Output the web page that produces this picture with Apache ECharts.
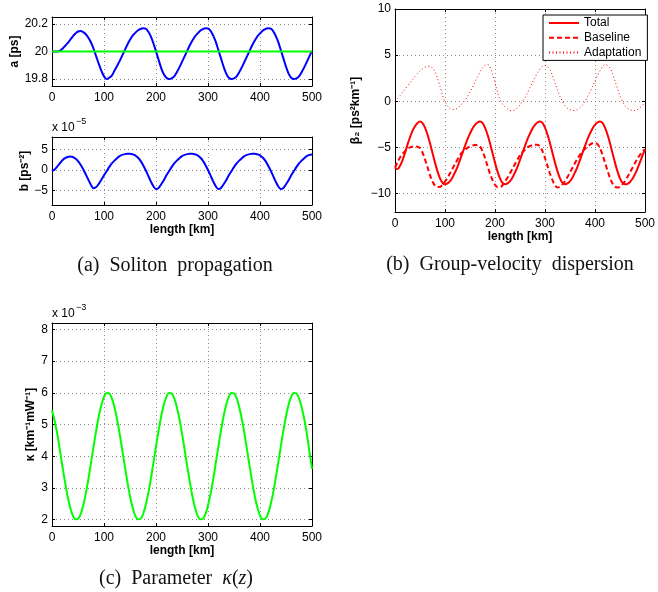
<!DOCTYPE html>
<html>
<head>
<meta charset="utf-8">
<title></title>
<script src="https://cdn.jsdelivr.net/npm/echarts@6/dist/echarts.min.js"></script>
<style>
  html, body { margin: 0; padding: 0; background: #fff; }
  #chart { width: 658px; height: 592px; }
</style>
</head>
<body>
<div id="chart"></div>
<script>
// fibre length, km (samples every 5 km)
const lengthKm = [0,5,10,15,20,25,30,35,40,45,50,55,60,65,70,75,80,85,90,95,
  100,105,110,115,120,125,130,135,140,145,150,155,160,165,170,175,180,185,190,195,
  200,205,210,215,220,225,230,235,240,245,250,255,260,265,270,275,280,285,290,295,
  300,305,310,315,320,325,330,335,340,345,350,355,360,365,370,375,380,385,390,395,
  400,405,410,415,420,425,430,435,440,445,450,455,460,465,470,475,480,485,490,495,500];

// (a) pulse width a [ps]
const widthA = [20.00,20.00,20.00,20.005,20.02,20.04,20.06,20.085,20.11,20.13,
  20.145,20.148,20.14,20.125,20.10,20.065,20.02,19.965,19.91,19.86,
  19.82,19.80,19.81,19.825,19.86,19.895,19.93,19.97,20.01,20.05,
  20.085,20.115,20.135,20.152,20.163,20.168,20.166,20.145,20.11,20.06,
  20.00,19.94,19.88,19.835,19.81,19.80,19.805,19.82,19.85,19.885,
  19.925,19.965,20.005,20.045,20.08,20.11,20.13,20.15,20.162,20.168,
  20.167,20.15,20.115,20.07,20.01,19.95,19.89,19.84,19.81,19.80,
  19.805,19.82,19.85,19.885,19.925,19.965,20.005,20.045,20.08,20.11,
  20.13,20.15,20.162,20.168,20.167,20.15,20.115,20.07,20.01,19.95,
  19.89,19.84,19.81,19.80,19.805,19.82,19.85,19.885,19.925,19.965,
  20.005];
const refKm = [0, 500];
const refA = [20, 20];

// (a) chirp b [x1e-5 ps^-2]
const chirpB = [-0.3,0.1,0.8,1.6,2.4,2.9,3.2,3.3,3.2,2.8,2.2,1.3,0.2,-1.1,-2.4,-3.7,-4.5,
  -4.2,-3.4,-2.4,-1.3,-0.3,0.7,1.6,2.3,2.9,3.4,3.7,3.9,4.0,4.0,3.85,3.6,3.05,2.3,1.25,0.0,-1.4,-2.8,-4.0,-4.7,
  -4.4,-3.5,-2.5,-1.3,-0.3,0.7,1.6,2.3,2.9,3.4,3.7,3.9,4.0,4.0,3.85,3.6,3.05,2.3,1.25,0.0,-1.4,-2.8,-4.0,-4.7,
  -4.4,-3.5,-2.5,-1.3,-0.3,0.7,1.6,2.3,2.9,3.4,3.7,3.9,4.0,4.0,3.85,3.6,3.05,2.3,1.25,0.0,-1.4,-2.8,-4.0,-4.7,
  -4.4,-3.5,-2.5,-1.3,-0.3,0.7,1.6,2.3,2.9,3.4,3.7,3.8];

// (b) beta2 [ps^2 km^-1]
const betaTotal = [-7.2,-7.35,-7.0,-6.4,-5.6,-4.7,-3.9,-3.2,-2.7,-2.35,-2.2,
  -2.37,-2.85,-3.6,-4.55,-5.6,-6.65,-7.6,-8.35,-8.83,-9.0,
  -8.9,-8.65,-8.25,-7.7,-7.1,-6.35,-5.6,-4.85,-4.1,-3.5,-2.95,-2.55,-2.3,-2.2,
  -2.35,-2.85,-3.6,-4.55,-5.6,-6.65,-7.6,-8.35,-8.85,-9.0,
  -8.9,-8.65,-8.25,-7.7,-7.1,-6.35,-5.6,-4.85,-4.1,-3.5,-2.95,-2.55,-2.3,-2.2,
  -2.35,-2.85,-3.6,-4.55,-5.6,-6.65,-7.6,-8.35,-8.85,-9.0,
  -8.9,-8.65,-8.25,-7.7,-7.1,-6.35,-5.6,-4.85,-4.1,-3.5,-2.95,-2.55,-2.3,-2.2,
  -2.35,-2.85,-3.6,-4.55,-5.6,-6.65,-7.6,-8.35,-8.85,-9.0,
  -8.95,-8.75,-8.4,-7.9,-7.3,-6.6,-5.9,-5.2];
const betaBase = [-7.2,-6.6,-6.1,-5.7,-5.4,-5.15,-5.0,-4.92,-4.9,-4.92,
  -5.05,-5.55,-6.3,-7.15,-8.0,-8.7,-9.15,-9.3,
  -9.27,-9.05,-8.7,-8.3,-7.8,-7.3,-6.8,-6.3,-5.85,-5.5,-5.25,-5.05,-4.9,-4.8,-4.75,-4.75,
  -4.9,-5.4,-6.15,-7.0,-7.85,-8.55,-9.05,-9.3,
  -9.3,-9.1,-8.7,-8.3,-7.8,-7.3,-6.8,-6.3,-5.85,-5.5,-5.25,-5.0,-4.85,-4.75,-4.7,-4.7,
  -4.9,-5.4,-6.15,-7.0,-7.85,-8.55,-9.1,-9.35,
  -9.25,-9.0,-8.65,-8.2,-7.7,-7.2,-6.7,-6.2,-5.8,-5.45,-5.15,-4.9,-4.7,-4.55,-4.5,
  -4.65,-5.1,-5.8,-6.65,-7.5,-8.3,-8.9,-9.25,-9.35,
  -9.25,-9.0,-8.65,-8.2,-7.7,-7.2,-6.7,-6.2,-5.8,-5.45,-5.2];
const betaAdapt = [0.0,0.3,0.6,0.95,1.3,1.65,2.0,2.35,2.7,3.0,
  3.3,3.5,3.7,3.8,3.8,3.6,3.2,2.5,1.6,0.7,
  -0.05,-0.5,-0.8,-0.9,-0.9,-0.75,-0.5,-0.2,0.1,0.5,
  1.0,1.5,2.1,2.65,3.2,3.6,3.9,4.0,3.7,3.0,
  2.0,1.0,0.2,-0.3,-0.6,-0.85,-1.0,-1.0,-0.9,-0.7,
  -0.4,0.0,0.4,0.9,1.5,2.05,2.6,3.1,3.5,3.8,
  3.9,3.75,3.4,2.8,2.0,1.2,0.5,0.0,-0.5,-0.75,
  -0.9,-1.0,-1.0,-0.9,-0.7,-0.4,0.0,0.5,1.0,1.6,
  2.2,2.8,3.3,3.75,4.0,3.9,3.6,3.0,2.2,1.4,
  0.6,0.0,-0.5,-0.75,-0.9,-1.0,-1.0,-0.9,-0.7,-0.45,
  -0.2];

// (c) kappa [x1e-3 km^-1 mW^-1]
const kappa = [5.45,5.12,4.72,4.21,3.69,3.19,2.74,2.38,2.13,2.01,2.02,2.17,2.45,2.82,3.28,3.79,4.31,4.81,5.26,5.62,5.87,5.99,5.98,5.83,
  5.55,5.18,4.72,4.21,3.69,3.19,2.74,2.38,2.13,2.01,2.02,2.17,2.45,2.82,3.28,3.79,4.31,4.81,5.26,5.62,5.87,5.99,5.98,5.83,
  5.55,5.18,4.72,4.21,3.69,3.19,2.74,2.38,2.13,2.01,2.02,2.17,2.45,2.82,3.28,3.79,4.31,4.81,5.26,5.62,5.87,5.99,5.98,5.83,
  5.55,5.18,4.72,4.21,3.69,3.19,2.74,2.38,2.13,2.01,2.02,2.17,2.45,2.82,3.28,3.79,4.31,4.81,5.26,5.62,5.87,5.99,5.98,5.83,
  5.55,5.18,4.72,4.15,3.6];

const xTicks = [0, 100, 200, 300, 400, 500];
const aTicks = [19.8, 20, 20.2];
const bTicks = [-5, 0, 5];
const betaTicks = [-10, -5, 0, 5, 10];
const kappaTicks = [2, 3, 4, 5, 6, 7, 8];

const font = "'Liberation Sans', Arial, sans-serif";
const serif = "'Liberation Serif', 'Times New Roman', serif";
const gridDot = { color: '#8a8a8a', width: 1, type: [1, 3] };
const minus = v => String(v).replace('-', '\u2212');

function pairs(xs, ys) { return xs.map((x, i) => [x, ys[i]]); }

const grids = [
  { left: 52, top: 17, width: 260, height: 69 },
  { left: 52, top: 137, width: 260, height: 68 },
  { left: 395, top: 9, width: 254, height: 203 },
  { left: 52, top: 323, width: 260, height: 203 }
];

const yCfg = [
  { min: 19.75, max: 20.25, ticks: aTicks, name: 'a [ps]', gap: 31 },
  { min: -8.6, max: 8.1, ticks: bTicks, name: 'b [ps\u207B\u00B2]', gap: 20 },
  { min: -12, max: 10, ticks: betaTicks, name: '\u03B2\u2082 [ps\u00B2km\u207B\u00B9]', gap: 33 },
  { min: 1.8, max: 8.2, ticks: kappaTicks, name: '\u03BA [km\u207B\u00B9mW\u207B\u00B9]', gap: 15 }
];
const xNames = ['', 'length [km]', 'length [km]', 'length [km]'];

const xAxis = [], yAxis = [];
grids.forEach((g, i) => {
  xAxis.push({
    type: 'value', gridIndex: i, min: 0, max: 500, position: 'bottom',
    name: xNames[i], nameLocation: 'middle', nameGap: 19,
    nameTextStyle: { fontFamily: font, fontSize: 12, fontWeight: 'bold', color: '#000' },
    axisLine: { show: true, onZero: false, lineStyle: { color: '#000', width: 1 } },
    axisTick: { show: true, inside: true, length: 3, customValues: xTicks, lineStyle: { color: '#000' } },
    axisLabel: { show: true, margin: 6, customValues: xTicks, fontFamily: font, fontSize: 12, color: '#000' },
    splitLine: { show: true, lineStyle: gridDot }
  });
  yAxis.push({
    type: 'value', gridIndex: i, min: yCfg[i].min, max: yCfg[i].max, position: 'left',
    name: yCfg[i].name, nameLocation: 'middle', nameRotate: 90, nameGap: yCfg[i].gap,
    nameTextStyle: { fontFamily: font, fontSize: 12, fontWeight: 'bold', color: '#000' },
    axisLine: { show: true, onZero: false, lineStyle: { color: '#000', width: 1 } },
    axisTick: { show: true, inside: true, length: 3, customValues: yCfg[i].ticks, lineStyle: { color: '#000' } },
    axisLabel: { show: true, margin: 4, customValues: yCfg[i].ticks, formatter: minus,
      fontFamily: font, fontSize: 12, color: '#000' },
    splitLine: { show: true, lineStyle: gridDot }
  });
});
// box edges on top / right with inward ticks
grids.forEach((g, i) => {
  xAxis.push({
    type: 'value', gridIndex: i, min: 0, max: 500, position: 'top',
    axisLine: { show: true, onZero: false, lineStyle: { color: '#000', width: 1 } },
    axisTick: { show: true, inside: true, length: 3, customValues: xTicks, lineStyle: { color: '#000' } },
    axisLabel: { show: false }, splitLine: { show: false }
  });
  yAxis.push({
    type: 'value', gridIndex: i, min: yCfg[i].min, max: yCfg[i].max, position: 'right',
    axisLine: { show: true, onZero: false, lineStyle: { color: '#000', width: 1 } },
    axisTick: { show: true, inside: true, length: 3, customValues: yCfg[i].ticks, lineStyle: { color: '#000' } },
    axisLabel: { show: false }, splitLine: { show: false }
  });
});

function line(name, gi, data, color, width, type) {
  return {
    name: name, type: 'line', xAxisIndex: gi, yAxisIndex: gi, data: data,
    smooth: 0.3, symbol: 'none', showSymbol: false,
    lineStyle: { color: color, width: width, type: type || 'solid' },
    itemStyle: { color: color }
  };
}

const chart = echarts.init(document.getElementById('chart'), null, { renderer: 'canvas' });
chart.setOption({
  animation: false,
  backgroundColor: '#fff',
  grid: grids.map(g => Object.assign({ containLabel: false }, g)),
  xAxis: xAxis,
  yAxis: yAxis,
  legend: {
    data: ['Total', 'Baseline', 'Adaptation'],
    orient: 'vertical', left: 543, top: 15,
    itemWidth: 30, itemHeight: 12, itemGap: 2.7,
    padding: [2, 6, 2, 5],
    itemStyle: { color: 'rgba(0,0,0,0)', borderColor: 'rgba(0,0,0,0)', borderWidth: 0 },
    backgroundColor: '#fff', borderColor: '#000', borderWidth: 1, borderRadius: 0,
    textStyle: { fontFamily: font, fontSize: 12, color: '#000' }
  },
  graphic: [
    { type: 'text', left: 52, top: 122, style: { text: 'x 10', font: '12px ' + font, fill: '#000' } },
    { type: 'text', left: 76, top: 117, style: { text: '\u22125', font: '9px ' + font, fill: '#000' } },
    { type: 'text', left: 52, top: 308, style: { text: 'x 10', font: '12px ' + font, fill: '#000' } },
    { type: 'text', left: 76, top: 303, style: { text: '\u22123', font: '9px ' + font, fill: '#000' } },
    { type: 'text', x: 175, y: 266, style: { text: '(a)  Soliton  propagation', font: '20px ' + serif,
      fill: '#111', align: 'center', verticalAlign: 'middle' } },
    { type: 'text', x: 510, y: 265, style: { text: '(b)  Group-velocity  dispersion', font: '20px ' + serif,
      fill: '#111', align: 'center', verticalAlign: 'middle' } },
    { type: 'text', x: 176, y: 579, style: { text: '(c)  Parameter  {it|\u03BA}({it|z})', font: '20px ' + serif,
      fill: '#111', align: 'center', verticalAlign: 'middle',
      rich: { it: { fontStyle: 'italic', fontFamily: serif, fontSize: 20 } } } }
  ],
  series: [
    line('a', 0, pairs(lengthKm, widthA), '#0000ff', 2),
    line('a0', 0, pairs(refKm, refA), '#00ff00', 2),
    line('b', 1, pairs(lengthKm, chirpB), '#0000ff', 2),
    line('Adaptation', 2, pairs(lengthKm, betaAdapt), '#ff0000', 1, [1, 2.5]),
    line('Baseline', 2, pairs(lengthKm, betaBase), '#ff0000', 2, [5, 3]),
    line('Total', 2, pairs(lengthKm, betaTotal), '#ff0000', 2),
    line('kappa', 3, pairs(lengthKm, kappa), '#00ff00', 2)
  ]
});
</script>
</body>
</html>
